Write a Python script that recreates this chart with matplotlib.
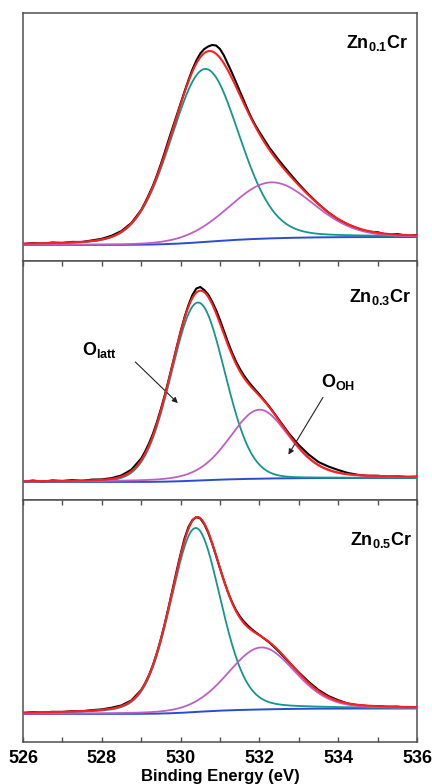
import numpy as np
import matplotlib.pyplot as plt
from matplotlib.gridspec import GridSpec

plt.rcParams["font.family"] = "Liberation Sans"
plt.rcParams["mathtext.fontset"] = "custom"
plt.rcParams["mathtext.bf"] = "Liberation Sans:bold"
plt.rcParams["mathtext.rm"] = "Liberation Sans:bold"

# Zn content of each sample, top to bottom
samples = ["0.1", "0.3", "0.5"]

# fitted O 1s components (eV, eV, a.u., G/L mix)
latt_center = [530.62, 530.44, 530.38]
latt_fwhm = [2.05, 1.6, 1.5]
latt_height = [173, 178, 184]
latt_eta = [0.15, 0.05, 0.2]

oh_center = [532.30, 532.0, 532.05]
oh_fwhm = [2.5, 1.8, 2.0]
oh_height = [56, 69, 62]
oh_eta = [0.1, 0.3, 0.2]

# Shirley background end levels
bg_low = [16, 18, 28]
bg_high = [24, 22, 33.5]

# measured spectra (a.u.)
meas_energy = (
    [526.0, 526.25, 526.5, 526.75, 527.0, 527.25, 527.5, 527.75, 528.0, 528.25, 528.5, 528.75, 529.0]
    + [529.1, 529.2, 529.3, 529.4, 529.5, 529.6, 529.7, 529.8, 529.9, 530.0, 530.1, 530.2, 530.3,
       530.4, 530.5, 530.6, 530.7, 530.8, 530.9, 531.0, 531.1, 531.2, 531.3, 531.4, 531.5, 531.6,
       531.7, 531.8, 531.9]
    + [532.0, 532.25, 532.5, 532.75, 533.0, 533.25, 533.5, 533.75, 534.0, 534.25, 534.5, 534.75,
       535.0, 535.25, 535.5, 535.75, 536.0]
)
meas_zn01 = [
    16.8, 18.0, 17.4, 18.5, 18.0, 19.1, 19.0, 20.6, 22.2, 25.3, 30.0, 38.0, 51.0,
    58.6, 66.8, 75.5, 85.8, 97.0, 109.0, 121.5, 133.5, 145.5, 157.5, 169.5, 181.0, 191.5,
    200.5, 207.5, 212.0, 214.5, 216.0, 215.5, 212.0, 205.5, 197.0, 188.5, 179.5, 170.0, 161.0,
    151.5, 143.0, 135.5,
    129.0, 113.5, 100.5, 88.5, 77.0, 66.5, 57.0, 48.5, 41.6, 36.5, 32.4, 29.4,
    28.8, 26.2, 27.0, 25.1, 25.9,
]
meas_zn03 = [
    18.2, 19.5, 18.3, 19.6, 19.0, 19.9, 19.2, 20.4, 20.6, 21.9, 24.6, 30.3, 41.5,
    48.5, 56.8, 66.5, 78.0, 91.0, 105.0, 120.5, 136.5, 152.8, 168.5, 182.8, 195.0, 205.0,
    211.5, 213.0, 210.0, 205.5, 198.5, 190.0, 180.0, 169.0, 158.0, 148.0, 139.0, 131.5, 125.0,
    119.5, 114.5, 110.0,
    105.5, 93.5, 80.0, 66.5, 55.0, 45.5, 38.0, 33.5, 30.0, 27.0, 25.2, 24.2,
    24.3, 23.4, 23.7, 23.0, 23.4,
]
meas_zn05 = [
    29.0, 29.9, 29.5, 30.2, 30.0, 30.8, 30.7, 31.9, 32.6, 34.3, 36.6, 41.6, 52.0,
    58.8, 67.0, 77.2, 89.2, 103.0, 118.6, 135.6, 153.3, 171.2, 188.0, 203.5, 215.0, 222.0,
    224.9, 223.5, 218.0, 209.5, 198.5, 186.3, 173.5, 161.3, 150.0, 140.3, 132.2, 125.8, 120.8,
    116.6, 113.0, 109.8,
    107.0, 99.6, 90.2, 79.6, 69.6, 60.2, 52.0, 46.0, 41.8, 38.4, 36.8, 36.0,
    35.9, 35.2, 35.4, 34.2, 35.0,
]
measured = [meas_zn01, meas_zn03, meas_zn05]

panel_top = [248, 239, 242]

TEAL = "#14968c"
MAGENTA = "#bf5fc4"
RED = "#ff1f1f"
BLUE = "#2a4cd0"
FRAME = "#505050"


def pseudo_voigt(e, c, w, h, eta=0.0):
    x = (e - c) / w
    return h * ((1 - eta) * np.exp(-4 * np.log(2) * x**2) + eta / (1 + 4 * x**2))


energy = np.linspace(526, 536, 401)

fig = plt.figure(figsize=(4.32, 7.84), dpi=100)
gs = GridSpec(3, 1, figure=fig, height_ratios=panel_top, hspace=0,
              left=23 / 432, right=417 / 432, top=1 - 13 / 784, bottom=1 - 742 / 784)

label_x = [0.976, 0.985, 0.988]
label_y = [0.859, 0.83, 0.814]

axes = []
for i in range(3):
    ax = fig.add_subplot(gs[i])
    axes.append(ax)
    latt = pseudo_voigt(energy, latt_center[i], latt_fwhm[i], latt_height[i], latt_eta[i])
    oh = pseudo_voigt(energy, oh_center[i], oh_fwhm[i], oh_height[i], oh_eta[i])
    cum = np.cumsum(latt + oh)
    bg = bg_low[i] + (bg_high[i] - bg_low[i]) * cum / cum[-1]
    fit = bg + latt + oh

    ax.plot(meas_energy, measured[i], color="black", lw=1.5, zorder=3)
    ax.plot(energy, fit, color=RED, lw=1.5, zorder=4)
    ax.plot(energy, bg + latt, color=TEAL, lw=1.3, zorder=3)
    ax.plot(energy, bg + oh, color=MAGENTA, lw=1.3, zorder=3)
    ax.plot(energy, bg, color=BLUE, lw=1.4, zorder=2)

    ax.set_xlim(526, 536)
    ax.set_ylim(0, panel_top[i])
    ax.set_yticks([])
    ax.set_xticks(np.arange(526, 537, 2))
    ax.set_xticks(np.arange(527, 536, 2), minor=True)
    ax.tick_params(axis="x", which="both", direction="in", length=3.5, width=1,
                   color=FRAME, top=(i > 0), bottom=(i == 2),
                   labelbottom=(i == 2), labelsize=13, pad=5.5)
    for spine in ax.spines.values():
        spine.set_color(FRAME)
        spine.set_linewidth(1.1)

    ax.text(label_x[i], label_y[i], r"$\mathbf{Zn_{%s}Cr}$" % samples[i],
            transform=ax.transAxes, ha="right", va="baseline", fontsize=13)

for lab in axes[2].get_xticklabels():
    lab.set_fontweight("bold")
axes[2].set_xlabel("Binding Energy (eV)", fontsize=12, fontweight="bold", labelpad=1.5)

ax = axes[1]
ax.annotate("", xy=(529.98, 95), xytext=(528.8, 140),
            arrowprops=dict(arrowstyle="-|>", color="#222222", lw=0.8, mutation_scale=8))
ax.text(527.5, 145, r"$\mathbf{O_{latt}}$", fontsize=13, ha="left", va="baseline")
ax.annotate("", xy=(532.7, 43), xytext=(533.65, 105),
            arrowprops=dict(arrowstyle="-|>", color="#222222", lw=0.8, mutation_scale=8))
ax.text(534.0, 113, r"$\mathbf{O_{OH}}$", fontsize=13, ha="center", va="baseline")

fig.savefig("out.png", dpi=100)
